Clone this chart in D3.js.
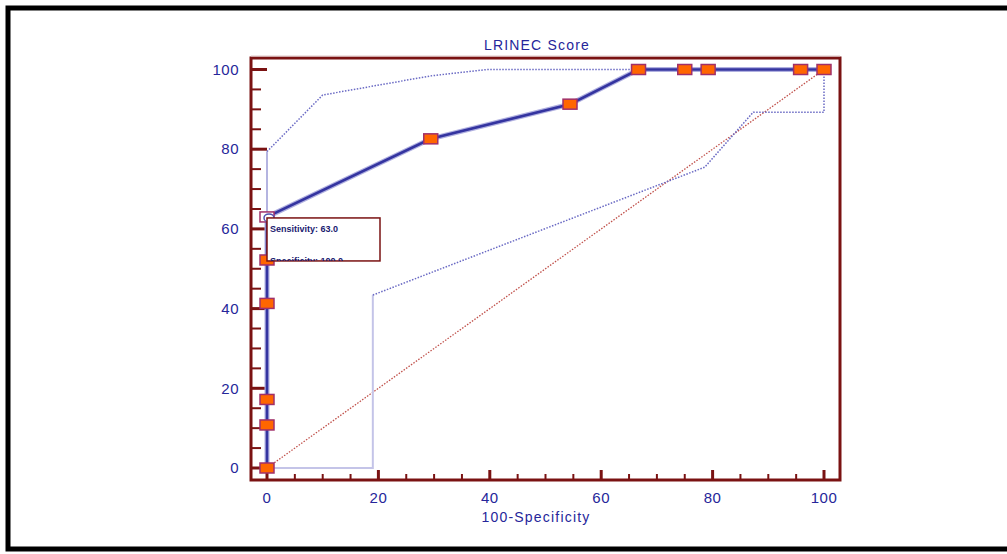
<!DOCTYPE html>
<html>
<head>
<meta charset="utf-8">
<title>LRINEC Score ROC</title>
<script src="https://unpkg.com/d3@7/dist/d3.min.js"></script>
<style>
body { margin: 0; background: #fff; }
text { font-family: "Liberation Sans", Arial, sans-serif; }
</style>
</head>
<body>
<div id="chart"></div>
<script>
// ROC curve points (100-Specificity, Sensitivity)
const rocX = [0, 0, 0, 0, 0, 0, 29.4, 54.4, 66.7, 75, 79.2, 95.8, 100];
const rocY = [0, 10.8, 17.2, 41.3, 52.2, 63.0, 82.6, 91.3, 100, 100, 100, 100, 100];

// confidence bounds
const upperSolidX = [0, 0];
const upperSolidY = [63.0, 79.4];
const upperDotX = [0, 10, 29.4, 39.5, 100];
const upperDotY = [79.4, 93.6, 98.4, 100, 100];
const lowerSolidX = [0, 19, 19];
const lowerSolidY = [0, 0, 43.4];
const lowerDotX = [19, 78.6, 87.3, 100, 100];
const lowerDotY = [43.4, 75.5, 89.3, 89.3, 100];

const diagX = [0, 100];
const diagY = [0, 100];

const xTicks = [0, 20, 40, 60, 80, 100];
const yTicks = [0, 20, 40, 60, 80, 100];
const minorTicks = d3.range(0, 101, 5);

const title = "LRINEC  Score";
const xTitle = "100-Specificity";
const tipLines = ["Sensitivity:  63.0", "Specificity: 100.0"];

const W = 1007, H = 554;
const navy = "#26269a", axisCol = "#7a1212";

const svg = d3.select("#chart").append("svg")
    .attr("width", W).attr("height", H);

// outer frame
svg.append("rect").attr("x", 8).attr("y", 8).attr("width", W + 20).attr("height", 541)
    .attr("fill", "none").attr("stroke", "#000").attr("stroke-width", 5);

const x = d3.scaleLinear().domain([0, 100]).range([267, 824]);
const y = d3.scaleLinear().domain([0, 100]).range([468, 69.5]);

const box = {l: 251, t: 58, r: 840, b: 480};

const pts = (xs, ys) => xs.map((v, i) => [v, ys[i]]);
const line = d3.line().x(d => x(d[0])).y(d => y(d[1]));

// plot frame
svg.append("rect").attr("x", box.l).attr("y", box.t)
    .attr("width", box.r - box.l).attr("height", box.b - box.t)
    .attr("fill", "#fff").attr("stroke", axisCol).attr("stroke-width", 3);
svg.append("line").attr("x1", box.l).attr("x2", box.r).attr("y1", box.t).attr("y2", box.t)
    .attr("stroke", "#e0c8c8").attr("stroke-width", 1).attr("transform", "translate(0,-2)");

// y ticks (pointing inward)
svg.append("g").selectAll("line").data(minorTicks).join("line")
    .attr("x1", box.l)
    .attr("x2", d => d % 20 === 0 ? box.l + 16 : box.l + 10)
    .attr("y1", d => y(d)).attr("y2", d => y(d))
    .attr("stroke", axisCol)
    .attr("stroke-width", d => d % 20 === 0 ? 3 : 2);

// x ticks (pointing up)
svg.append("g").selectAll("line").data(minorTicks).join("line")
    .attr("y1", box.b)
    .attr("y2", d => d % 20 === 0 ? box.b - 10 : box.b - 6)
    .attr("x1", d => x(d)).attr("x2", d => x(d))
    .attr("stroke", axisCol)
    .attr("stroke-width", d => d % 20 === 0 ? 3 : 2);

// tick labels
svg.append("g").selectAll("text").data(yTicks).join("text")
    .attr("x", 239).attr("y", d => y(d)).attr("dy", "0.35em")
    .attr("text-anchor", "end").attr("fill", navy).attr("font-size", 15)
    .attr("letter-spacing", 0.5)
    .text(d => d);
svg.append("g").selectAll("text").data(xTicks).join("text")
    .attr("x", d => x(d)).attr("y", 503)
    .attr("text-anchor", "middle").attr("fill", navy).attr("font-size", 15)
    .attr("letter-spacing", 0.5)
    .text(d => d);

svg.append("text").attr("x", 537).attr("y", 50).attr("text-anchor", "middle")
    .attr("fill", navy).attr("font-size", 14).attr("letter-spacing", 1.2)
    .text(title);
svg.append("text").attr("x", 536).attr("y", 522).attr("text-anchor", "middle")
    .attr("fill", navy).attr("font-size", 14).attr("letter-spacing", 1.2)
    .text(xTitle);

// diagonal reference
svg.append("path").attr("d", line(pts(diagX, diagY)))
    .attr("fill", "none").attr("stroke", "#c0504a").attr("stroke-width", 1.3)
    .attr("stroke-dasharray", "1.5,1.5");

// confidence bounds
svg.append("path").attr("d", line(pts(upperSolidX, upperSolidY)))
    .attr("fill", "none").attr("stroke", "#b4b4e0").attr("stroke-width", 2);
svg.append("path").attr("d", line(pts(lowerSolidX, lowerSolidY)))
    .attr("fill", "none").attr("stroke", "#c4c4e8").attr("stroke-width", 2);
[pts(upperDotX, upperDotY), pts(lowerDotX, lowerDotY)].forEach(p => {
    svg.append("path").attr("d", line(p))
        .attr("fill", "none").attr("stroke", "#6a6ac4").attr("stroke-width", 1.5)
        .attr("stroke-dasharray", "1.5,1.5");
});

// ROC curve with halo
const roc = pts(rocX, rocY);
svg.append("path").attr("d", line(roc))
    .attr("fill", "none").attr("stroke", "#b0b0e0").attr("stroke-width", 5);
svg.append("path").attr("d", line(roc))
    .attr("fill", "none").attr("stroke", "#3434a0").attr("stroke-width", 2.6);

// markers
svg.append("g").selectAll("rect").data(roc).join("rect")
    .attr("x", d => x(d[0]) - 7).attr("y", d => y(d[1]) - 5)
    .attr("width", 14).attr("height", 10)
    .attr("fill", d => d[1] === 63.0 ? "#fff" : "#ff6600")
    .attr("stroke", "#a0306a").attr("stroke-width", 1.5);

// highlighted point
svg.append("ellipse").attr("cx", x(0) + 2).attr("cy", y(63.0) + 1)
    .attr("rx", 5).attr("ry", 4).attr("fill", "#fff")
    .attr("stroke", "#5050b0").attr("stroke-width", 1.5);

// tooltip
const tip = svg.append("g").attr("transform", `translate(${x(0)},${y(63.0) + 1})`);
svg.append("clipPath").attr("id", "tipclip").append("rect")
    .attr("x", 0).attr("y", 0).attr("width", 113).attr("height", 43);
tip.append("rect").attr("width", 113).attr("height", 43)
    .attr("fill", "#fff").attr("stroke", "#7a1212").attr("stroke-width", 1.5);
tip.append("g").attr("clip-path", "url(#tipclip)")
    .selectAll("text").data(tipLines).join("text")
    .attr("x", 3).attr("y", (d, i) => 14 + i * 32)
    .attr("font-size", 9).attr("font-weight", "bold").attr("fill", "#1a1a70")
    .text(d => d);
</script>
</body>
</html>
